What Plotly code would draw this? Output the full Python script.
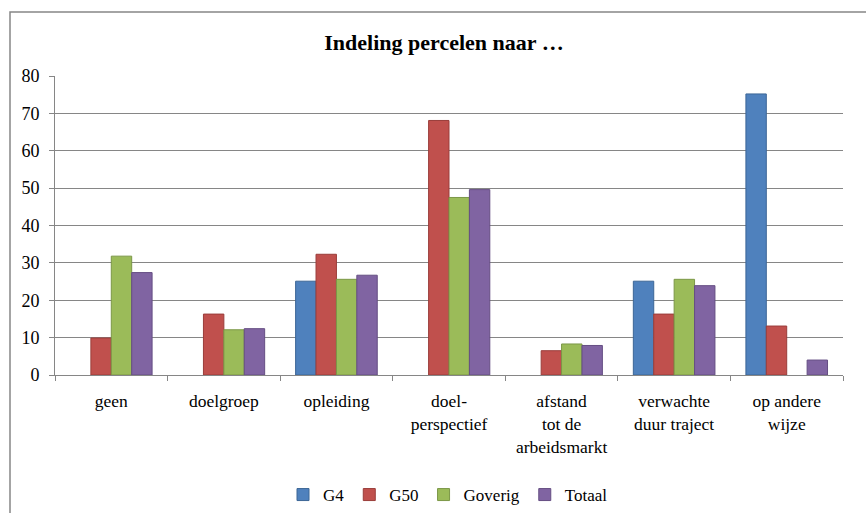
import plotly.graph_objects as go

categories = ["geen", "doelgroep", "opleiding", "doel-<br>perspectief",
              "afstand<br>tot de<br>arbeidsmarkt", "verwachte<br>duur traject",
              "op andere<br>wijze"]
g4 = [None, None, 25.1, None, None, 25.1, 75.2]
g50 = [9.9, 16.3, 32.3, 68.1, 6.5, 16.3, 13.1]
goverig = [31.8, 12.1, 25.6, 47.5, 8.3, 25.6, None]
totaal = [27.4, 12.4, 26.7, 49.6, 7.9, 23.9, 4.0]
series_names = ["G4", "G50", "Goverig", "Totaal"]
colors = ["#4F81BD", "#C0504D", "#9BBB59", "#8064A2"]
edge_colors = ["#3C6696", "#9A3D3A", "#7B9747", "#654E83"]
y_ticks = [0, 10, 20, 30, 40, 50, 60, 70, 80]

W, H = 866, 513
ml, mr, mt, mb = 55, 23, 76, 138
pw, ph = W - ml - mr, H - mt - mb
FONT = "Liberation Serif, Times New Roman, serif"

fig = go.Figure()
for name, vals, c, ec in zip(series_names, [g4, g50, goverig, totaal], colors, edge_colors):
    fig.add_trace(go.Bar(x=categories, y=vals, name=name,
                         marker=dict(color=c, line=dict(color=ec, width=1))))

def px_x(p):
    return (p - ml) / pw

def px_y(p):
    return (H - mb - p) / ph

fig.update_layout(
    width=W, height=H,
    margin=dict(l=ml, r=mr, t=mt, b=mb, autoexpand=False),
    paper_bgcolor="white", plot_bgcolor="white",
    font=dict(family=FONT, size=17, color="black"),
    barmode="group", bargap=0.275, bargroupgap=0.0,
    title=dict(text="<b>Indeling percelen naar …</b>", xref="paper", x=px_x(444),
               xanchor="center", y=1 - 42 / H, yanchor="middle",
               font=dict(size=22, family=FONT)),
    xaxis=dict(showline=True, linecolor="#868686", ticks="outside", tickson="boundaries",
               ticklen=5, tickcolor="#868686", showgrid=False, ticklabelstandoff=10,
               tickfont=dict(size=17.5)),
    yaxis=dict(range=[0, 80], tickvals=y_ticks, showline=True, linecolor="#868686",
               ticks="outside", ticklen=5, tickcolor="#868686", gridcolor="#868686",
               gridwidth=1, zeroline=False, tickfont=dict(size=18), ticklabelstandoff=6),
    legend=dict(orientation="h", x=px_x(448), xanchor="center", y=px_y(495),
                yanchor="middle", font=dict(size=17), itemwidth=30,
                traceorder="normal"),
    shapes=[dict(type="rect", xref="paper", yref="paper",
                 x0=px_x(10), x1=px_x(W + 20), y0=px_y(H + 20), y1=px_y(12),
                 line=dict(color="#868686", width=1.5), layer="below")],
    showlegend=True,
)

fig.write_html("out.html", config={"displayModeBar": False},
               post_script="document.body.style.margin='0';document.body.style.overflow='hidden';")
